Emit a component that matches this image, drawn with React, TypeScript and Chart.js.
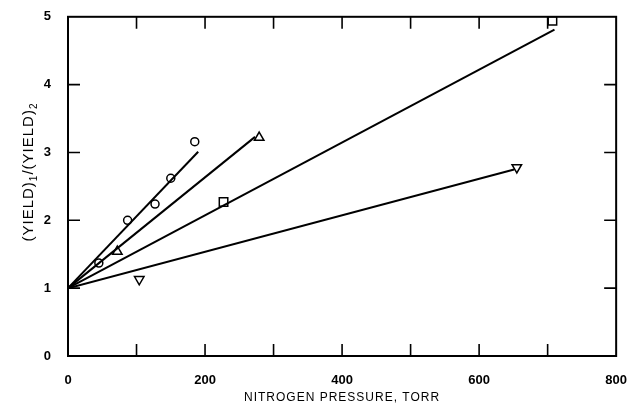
import { useEffect, useRef } from 'react';
import { Chart, registerables } from 'chart.js';

Chart.register(...registerables);

// Measured points
const circleX = [45, 87, 127, 150, 185];
const circleY = [1.37, 2.0, 2.24, 2.62, 3.16];
const triangleX = [72, 279];
const triangleY = [1.54, 3.22];
const squareX = [227, 707];
const squareY = [2.27, 4.94];
const invTriangleX = [104, 655];
const invTriangleY = [1.13, 2.78];

// Fitted straight lines (endpoints)
const fitCircleX = [0, 190];
const fitCircleY = [1, 3.01];
const fitTriangleX = [0, 273];
const fitTriangleY = [1, 3.23];
const fitSquareX = [0, 710];
const fitSquareY = [1, 4.81];
const fitInvTriangleX = [0, 651];
const fitInvTriangleY = [1, 2.75];

// Axes
const xMin = 0;
const xMax = 800;
const xLabelStep = 200;
const xMinorTicks = [100, 200, 300, 400, 500, 600, 700];
const yMin = 0;
const yMax = 5;
const yMinorTicks = [1, 2, 3, 4];

const xTitle = 'NITROGEN PRESSURE, TORR';
const yTitleParts = ['(YIELD)', '1', '/(YIELD)', '2'];

const zip = (xs: number[], ys: number[]) => xs.map((x, i) => ({ x, y: ys[i] }));

const FONT = '"Liberation Sans", Arial, sans-serif';

const decorPlugin = {
  id: 'decor',
  afterDraw(chart: any) {
    const { ctx, chartArea: a, scales } = chart;
    const xs = scales.x;
    const ys = scales.y;
    ctx.save();
    ctx.strokeStyle = '#000';
    ctx.lineCap = 'butt';
    // frame
    ctx.lineWidth = 2;
    ctx.strokeRect(a.left, a.top, a.right - a.left, a.bottom - a.top);
    // inward ticks
    ctx.lineWidth = 1.6;
    const L = 12;
    ctx.beginPath();
    xMinorTicks.forEach((v) => {
      const px = xs.getPixelForValue(v);
      ctx.moveTo(px, a.bottom);
      ctx.lineTo(px, a.bottom - L);
      ctx.moveTo(px, a.top);
      ctx.lineTo(px, a.top + L);
    });
    yMinorTicks.forEach((v) => {
      const py = ys.getPixelForValue(v);
      ctx.moveTo(a.left, py);
      ctx.lineTo(a.left + L, py);
      ctx.moveTo(a.right, py);
      ctx.lineTo(a.right - L, py);
    });
    ctx.stroke();

    // x title
    ctx.fillStyle = '#000';
    ctx.font = `12px ${FONT}`;
    (ctx as any).letterSpacing = '1px';
    ctx.textAlign = 'center';
    ctx.textBaseline = 'middle';
    ctx.fillText(xTitle, (a.left + a.right) / 2, 398);

    // y title, rotated, with subscripts
    const big = `15px ${FONT}`;
    const small = `10px ${FONT}`;
    ctx.translate(28, 172);
    ctx.rotate(-Math.PI / 2);
    const widths = yTitleParts.map((t, i) => {
      ctx.font = i % 2 === 0 ? big : small;
      return ctx.measureText(t).width;
    });
    const total = widths.reduce((s, w) => s + w, 0);
    let cx = -total / 2;
    ctx.textAlign = 'left';
    ctx.textBaseline = 'alphabetic';
    yTitleParts.forEach((t, i) => {
      const isSub = i % 2 === 1;
      ctx.font = isSub ? small : big;
      ctx.fillText(t, cx, isSub ? 9 : 5);
      cx += widths[i];
    });
    ctx.restore();
  },
};

export default function App() {
  const ref = useRef<HTMLCanvasElement | null>(null);

  useEffect(() => {
    document.body.style.margin = '0';
    if (!ref.current) return;
    const pointBase = {
      showLine: false,
      borderColor: '#000',
      backgroundColor: '#fff',
      borderWidth: 1.5,
    };
    const lineBase = {
      showLine: true,
      borderColor: '#000',
      borderWidth: 2,
      pointRadius: 0,
      fill: false,
    };
    const chart = new Chart(ref.current, {
      type: 'scatter',
      data: {
        datasets: [
          { ...lineBase, data: zip(fitCircleX, fitCircleY) },
          { ...lineBase, data: zip(fitTriangleX, fitTriangleY) },
          { ...lineBase, data: zip(fitSquareX, fitSquareY) },
          { ...lineBase, data: zip(fitInvTriangleX, fitInvTriangleY) },
          { ...pointBase, data: zip(circleX, circleY), pointStyle: 'circle', pointRadius: 4 },
          { ...pointBase, data: zip(triangleX, triangleY), pointStyle: 'triangle', pointRadius: 5.5 },
          { ...pointBase, data: zip(squareX, squareY), pointStyle: 'rect', pointRadius: 6 },
          {
            ...pointBase,
            data: zip(invTriangleX, invTriangleY),
            pointStyle: 'triangle',
            rotation: 180,
            pointRadius: 5.5,
          },
        ] as any,
      },
      options: {
        animation: false,
        responsive: false,
        devicePixelRatio: 1,
        layout: { padding: { left: 0, right: 15, top: 14, bottom: 0 } },
        plugins: { legend: { display: false }, tooltip: { enabled: false } },
        scales: {
          x: {
            type: 'linear',
            min: xMin,
            max: xMax,
            grid: { display: false },
            border: { display: false },
            ticks: {
              stepSize: xLabelStep,
              autoSkip: false,
              maxRotation: 0,
              padding: 9,
              color: '#000',
              font: { family: FONT, size: 13, weight: 'bold' },
            },
            afterFit: (s: any) => {
              s.height = 56;
            },
          },
          y: {
            type: 'linear',
            min: yMin,
            max: yMax,
            grid: { display: false },
            border: { display: false },
            ticks: {
              stepSize: 1,
              padding: 9,
              color: '#000',
              font: { family: FONT, size: 13, weight: 'bold' },
            },
            afterFit: (s: any) => {
              s.width = 68;
            },
          },
        },
      } as any,
      plugins: [decorPlugin],
    });
    return () => chart.destroy();
  }, []);

  return (
    <div style={{ width: 636, height: 412, background: '#fff' }}>
      <canvas ref={ref} width={636} height={412} style={{ display: 'block', width: 636, height: 412 }} />
    </div>
  );
}
